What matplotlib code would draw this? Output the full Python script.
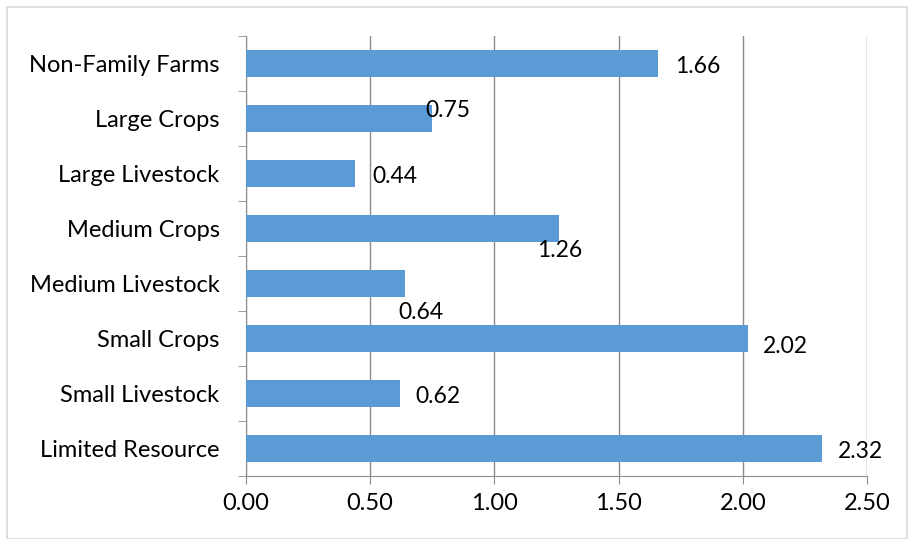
import matplotlib
matplotlib.use("Agg")
import matplotlib.pyplot as plt
from matplotlib.patches import Rectangle

# farm typology values, bottom to top
categories = ["Limited Resource", "Small Livestock", "Small Crops", "Medium Livestock",
              "Medium Crops", "Large Livestock", "Large Crops", "Non-Family Farms"]
values = [2.32, 0.62, 2.02, 0.64, 1.26, 0.44, 0.75, 1.66]
x_ticks = [0.0, 0.5, 1.0, 1.5, 2.0, 2.5]

# per-label offsets in points (Excel-style label placement)
label_offsets = [(11, -2), (11, -2), (11, -6), (-5, -21), (-16, -16), (12, -2), (-5, 6), (12, -2)]

plt.rcParams["font.family"] = ["Lato", "DejaVu Sans"]

fig = plt.figure(figsize=(9.09, 5.39), dpi=100)
fig.patches.append(Rectangle((0.008, 0.0), 0.99, 0.987, transform=fig.transFigure,
                             fill=False, edgecolor="#d9d9d9", linewidth=1.2))
ax = fig.add_axes([0.2706, 0.1169, 0.6832, 0.8163])

ypos = list(range(len(categories)))
ax.barh(ypos, values, height=0.5, color="#5b9bd5", zorder=3)

for y, v, (dx, dy) in zip(ypos, values, label_offsets):
    ax.annotate(f"{v:.2f}", xy=(v, y), xytext=(dx, dy), textcoords="offset points",
                ha="left", va="center", fontsize=16.5, color="black", zorder=4)

ax.set_xlim(0, 2.5)
ax.set_ylim(-0.5, len(categories) - 0.5)
ax.set_xticks(x_ticks)
ax.set_xticklabels([f"{t:.2f}" for t in x_ticks])
ax.set_yticks(ypos)
ax.set_yticklabels(categories)
ax.set_yticks([y - 0.5 for y in range(len(categories) + 1)], minor=True)

ax.grid(axis="x", color="#8c8c8c", linewidth=1.0, zorder=0)
for side in ["top", "right"]:
    ax.spines[side].set_visible(False)
ax.spines["left"].set_color("#8c8c8c")
ax.spines["bottom"].set_color("#8c8c8c")

ax.tick_params(axis="y", which="major", length=0, pad=19, labelsize=17)
ax.tick_params(axis="y", which="minor", length=6, color="#8c8c8c")
ax.tick_params(axis="x", length=6, color="#8c8c8c", labelsize=17, pad=6)

fig.savefig("out.png", dpi=100)
